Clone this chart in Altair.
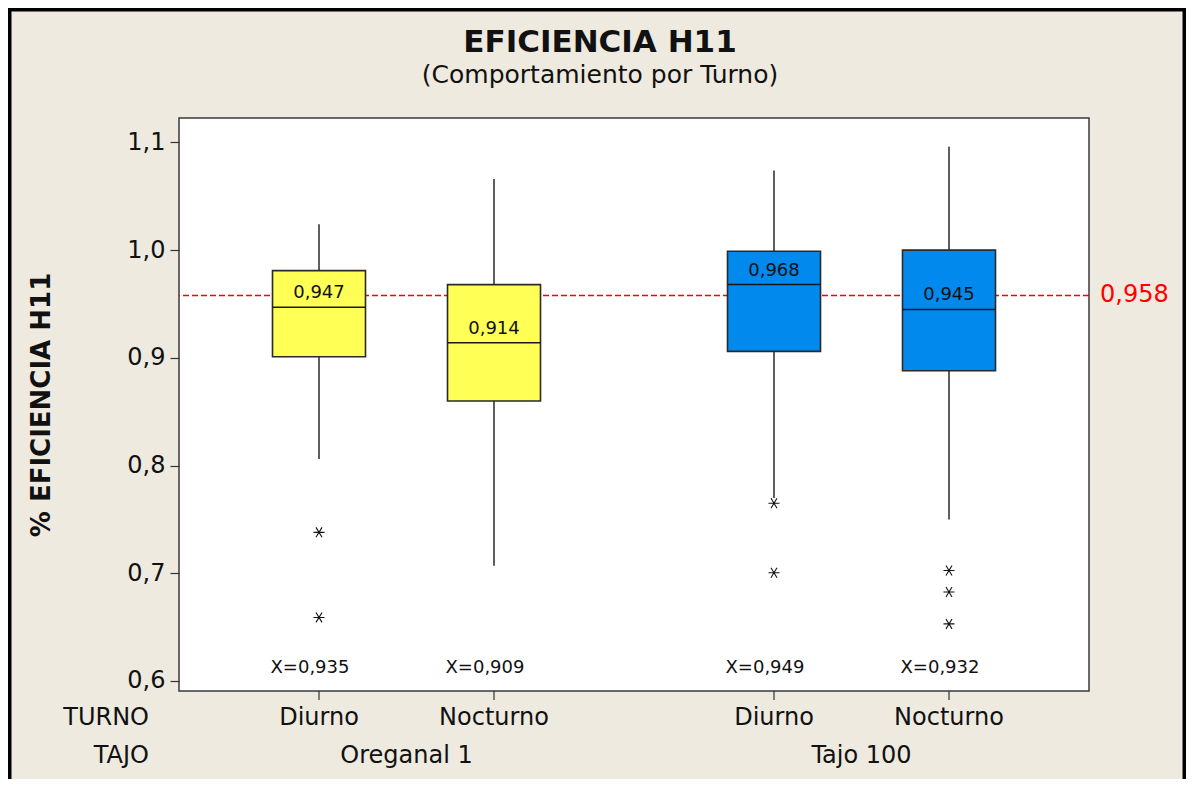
import altair as alt
import pandas as pd

# ---------------- data ----------------
tajo = ["Oreganal 1", "Oreganal 1", "Tajo 100", "Tajo 100"]
turno = ["Diurno", "Nocturno", "Diurno", "Nocturno"]
whisker_low = [0.806, 0.707, 0.770, 0.750]
q1 = [0.901, 0.860, 0.906, 0.888]
median = [0.947, 0.914, 0.968, 0.945]
q3 = [0.981, 0.968, 0.999, 1.000]
whisker_high = [1.024, 1.066, 1.074, 1.096]
mean = [0.935, 0.909, 0.949, 0.932]

outlier_tajo = ["Oreganal 1", "Oreganal 1", "Tajo 100", "Tajo 100",
                "Tajo 100", "Tajo 100", "Tajo 100"]
outlier_turno = ["Diurno", "Diurno", "Diurno", "Diurno",
                 "Nocturno", "Nocturno", "Nocturno"]
outlier_value = [0.738, 0.659, 0.765, 0.7005, 0.7026, 0.6826, 0.653]

reference = 0.958
y_ticks = [0.6, 0.7, 0.8, 0.9, 1.0, 1.1]
tajo_groups = ["Oreganal 1", "Tajo 100"]
turno_groups = ["Diurno", "Nocturno"]
tajo_colors = ["#FFFF55", "#0289EE"]
row_labels = ["TURNO", "TAJO"]
title_text = "EFICIENCIA H11"
subtitle_text = "(Comportamiento por Turno)"
y_title = "% EFICIENCIA H11"

# ---------------- tables ----------------
boxes = pd.DataFrame({
    "tajo": tajo, "turno": turno, "lo": whisker_low, "q1": q1,
    "median": median, "q3": q3, "hi": whisker_high, "mean": mean,
})
outliers = pd.DataFrame({"tajo": outlier_tajo, "turno": outlier_turno,
                         "value": outlier_value})
ref_df = pd.DataFrame({"ref": [reference]})
groups_df = pd.DataFrame({"tajo": tajo_groups})
frame_df = pd.DataFrame({"k": [0]})
row_df = pd.DataFrame({"label": row_labels})
title_df = pd.DataFrame({"title": [title_text], "subtitle": [subtitle_text]})

FONT = "DejaVu Sans"
W, H = 910, 573
PAD = {"left": 171, "top": 110, "right": 97, "bottom": 88}
BOX_W = 93
CENTER_X = 421  # horizontal centre of the whole figure, in plot coordinates

x_enc = alt.X("tajo:N",
              scale=alt.Scale(domain=tajo_groups, paddingInner=0.2, paddingOuter=0.1),
              axis=None)
xo_enc = alt.XOffset("turno:N",
                     scale=alt.Scale(domain=turno_groups, paddingInner=0, paddingOuter=0.04))

y_scale = alt.Scale(domain=[0.5907, 1.1227], nice=False, zero=False)
y_axis = alt.Axis(
    values=y_ticks,
    labelExpr="replace(format(datum.value, '.1f'), '.', ',')",
    grid=False, domain=False, tickSize=9, tickColor="#333333", tickWidth=1.2,
    labelFont=FONT, labelFontSize=24, labelColor="#111111", labelPadding=5,
    titleFont=FONT, titleFontSize=26, titleFontWeight="bold", titleColor="#111111",
    titleAngle=270, titleAlign="center", titleBaseline="middle",
    titleX=-138, titleY=H / 2,
)


def yq(field):
    return alt.Y(f"{field}:Q", scale=y_scale, axis=y_axis, title=y_title)


total_w = W + PAD["left"] + PAD["right"]
frame = alt.Chart(frame_df).mark_rect(
    fillOpacity=0, stroke="black", strokeWidth=3.5, clip=False
).encode(
    x=alt.value(-PAD["left"] + 1.75), x2=alt.value(total_w - PAD["left"] - 1.75),
    y=alt.value(-PAD["top"] + 1.75), y2=alt.value(H + 150),
)

title_mark = alt.Chart(title_df).mark_text(
    baseline="middle", font=FONT, fontSize=31, fontWeight="bold", color="#111111"
).encode(x=alt.value(CENTER_X), y=alt.value(-75), text="title:N")

subtitle_mark = alt.Chart(title_df).mark_text(
    baseline="middle", font=FONT, fontSize=25, color="#111111"
).encode(x=alt.value(CENTER_X), y=alt.value(-43), text="subtitle:N")

ref_rule = alt.Chart(ref_df).mark_rule(
    color="#FF0000", strokeWidth=1.5, strokeDash=[6, 3]
).encode(y=yq("ref"))

ref_text = alt.Chart(ref_df).transform_calculate(
    reflabel="replace(format(datum.ref, '.3f'), '.', ',')"
).mark_text(
    align="left", baseline="middle", color="#FF0000", font=FONT, fontSize=24
).encode(x=alt.value(W + 11), y=yq("ref"), text="reflabel:N")

whiskers = alt.Chart(boxes).mark_rule(color="#1a1a1a", strokeWidth=1.4).encode(
    x=x_enc, xOffset=xo_enc, y=yq("lo"), y2="hi:Q"
)

box = alt.Chart(boxes).mark_bar(
    size=BOX_W, stroke="#2a2a2a", strokeWidth=1.6, opacity=1
).encode(
    x=x_enc, xOffset=xo_enc, y=yq("q1"), y2="q3:Q",
    color=alt.Color("tajo:N", scale=alt.Scale(domain=tajo_groups, range=tajo_colors),
                    legend=None),
)

med_line = alt.Chart(boxes).mark_tick(
    size=BOX_W, thickness=1.5, color="#1a1a1a", opacity=1
).encode(x=x_enc, xOffset=xo_enc, y=yq("median"))

med_text = alt.Chart(boxes).transform_calculate(
    medlabel="replace(format(datum.median, '.3f'), '.', ',')"
).mark_text(
    baseline="bottom", dy=-5, font=FONT, fontSize=18, color="#111111"
).encode(x=x_enc, xOffset=xo_enc, y=yq("median"), text="medlabel:N")

outlier_pts = alt.Chart(outliers).mark_point(
    shape="M-1,0L1,0M-0.55,-0.9L0.55,0.9M-0.55,0.9L0.55,-0.9",
    size=121, filled=False, stroke="#111111", strokeWidth=1.1, opacity=1
).encode(x=x_enc, xOffset=xo_enc, y=yq("value"))

mean_text = alt.Chart(boxes).transform_calculate(
    meanlabel="'X=' + replace(format(datum.mean, '.3f'), '.', ',')"
).mark_text(
    baseline="middle", dx=-9, font=FONT, fontSize=18, color="#111111"
).encode(x=x_enc, xOffset=xo_enc, y=alt.value(H - 23), text="meanlabel:N")

bottom_ticks = alt.Chart(boxes).mark_rule(color="#333333", strokeWidth=1.2).encode(
    x=x_enc, xOffset=xo_enc, y=alt.value(H), y2=alt.value(H + 9)
)

turno_text = alt.Chart(boxes).mark_text(
    baseline="middle", font=FONT, fontSize=24, color="#111111"
).encode(x=x_enc, xOffset=xo_enc, y=alt.value(H + 27), text="turno:N")

tajo_text = alt.Chart(groups_df).mark_text(
    baseline="middle", font=FONT, fontSize=24, color="#111111"
).encode(x=x_enc, y=alt.value(H + 65), text="tajo:N")

row_turno = alt.Chart(row_df).transform_filter(
    alt.datum.label == row_labels[0]
).mark_text(
    align="right", baseline="middle", font=FONT, fontSize=24, color="#111111"
).encode(x=alt.value(-30), y=alt.value(H + 27), text="label:N")

row_tajo = alt.Chart(row_df).transform_filter(
    alt.datum.label == row_labels[1]
).mark_text(
    align="right", baseline="middle", font=FONT, fontSize=24, color="#111111"
).encode(x=alt.value(-30), y=alt.value(H + 65), text="label:N")

chart = alt.layer(
    frame, title_mark, subtitle_mark, ref_rule, whiskers, box, med_line, med_text,
    outlier_pts, mean_text, bottom_ticks, turno_text, tajo_text, ref_text,
    row_turno, row_tajo,
).properties(
    width=W, height=H,
    background="#EEEAE0",
    padding=PAD,
    autosize=alt.AutoSizeParams(type="none"),
).configure_view(fill="white", stroke="#3a3a3a", strokeWidth=1.5)

chart.save("out.html", embed_options={"renderer": "svg", "actions": False})
